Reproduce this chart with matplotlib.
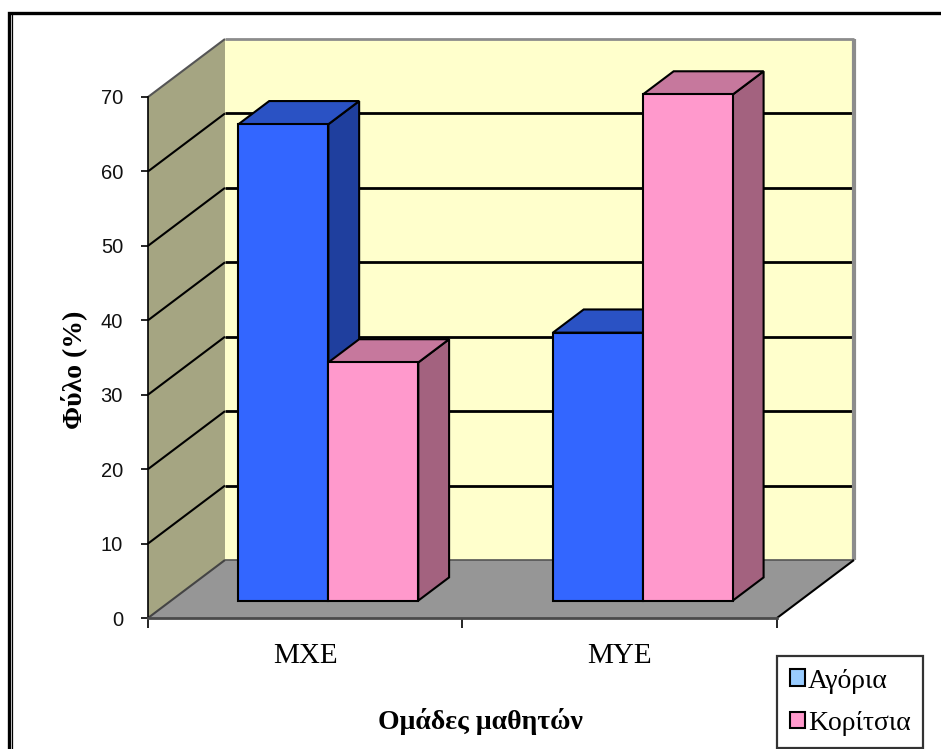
import matplotlib
matplotlib.use("Agg")
import matplotlib.pyplot as plt
from matplotlib.patches import Polygon, Rectangle, Patch
from matplotlib.lines import Line2D

# ---- data ----
categories = ["ΜΧΕ", "ΜΥΕ"]
series_names = ["Αγόρια", "Κορίτσια"]
boys = [64, 36]
girls = [32, 68]
y_ticks = [0, 10, 20, 30, 40, 50, 60, 70]

# ---- style ----
front_colors = ["#3366FF", "#FF99CC"]
top_colors = ["#2A52C4", "#C6789D"]
side_colors = ["#1F3F9E", "#A3627F"]
legend_colors = ["#99CCFF", "#FF99CC"]
wall_back = "#FFFFCC"
wall_side = "#A5A582"
floor_col = "#969696"

W, H = 941, 749
fig = plt.figure(figsize=(W / 100, H / 100), dpi=100)
fig.patch.set_facecolor("white")

# front plane of the 3-D box, in pixels
x_left, x_right = 148, 777
y_bottom, y_top = 618, 97
ax = fig.add_axes([x_left / W, 1 - y_bottom / H,
                   (x_right - x_left) / W, (y_bottom - y_top) / H])
ax.set_xlim(0, len(categories))
ax.set_ylim(0, 70)
ax.patch.set_visible(False)

# oblique depth offset (data units)
DX = 77 / ((x_right - x_left) / len(categories))
DY = 58 / ((y_bottom - y_top) / 70)
ymax = 70
ncat = len(categories)

def poly(pts, fc, ec="none", lw=0, z=1):
    ax.add_patch(Polygon(pts, closed=True, facecolor=fc, edgecolor=ec,
                         linewidth=lw, zorder=z, clip_on=False,
                         joinstyle="miter"))

def line(xs, ys, color="black", lw=1.5, z=1.2):
    ax.add_line(Line2D(xs, ys, color=color, linewidth=lw, zorder=z,
                       clip_on=False, solid_capstyle="butt"))

# walls and floor
poly([(DX, DY), (ncat + DX, DY), (ncat + DX, ymax + DY), (DX, ymax + DY)], wall_back, z=0.5)
poly([(0, 0), (DX, DY), (DX, ymax + DY), (0, ymax)], wall_side, z=0.5)
poly([(0, 0), (ncat, 0), (ncat + DX, DY), (DX, DY)], floor_col, z=0.5)

# gridlines on side wall and back wall
for v in y_ticks[1:-1]:
    line([0, DX], [v, v + DY], lw=1.5)
    line([DX, ncat + DX], [v + DY, v + DY], lw=2)

# wall and floor edges
line([0, DX], [ymax, ymax + DY], color="#555555", lw=1.5)
line([DX, ncat + DX], [ymax + DY, ymax + DY], color="#8C8C8C", lw=2)
line([ncat + DX, ncat + DX], [DY, ymax + DY], color="#8C8C8C", lw=3)
line([0, DX], [0, DY], color="#444444", lw=1.5)
line([DX, ncat + DX], [DY, DY], color="#555555", lw=1.2)
line([ncat, ncat + DX], [0, DY], color="black", lw=1.5)

# bars
f0, f1 = 0.3, 0.7
depth = f1 - f0
bar_w = 0.286
gap = (1 - 2 * bar_w) / 2
values = [boys, girls]
for i in range(ncat):
    for j in range(len(series_names)):
        v = values[j][i]
        x0 = i + gap + j * bar_w + f0 * DX
        y0 = f0 * DY
        top = v + y0
        ddx, ddy = depth * DX, depth * DY
        # side face
        poly([(x0 + bar_w, y0), (x0 + bar_w + ddx, y0 + ddy),
              (x0 + bar_w + ddx, top + ddy), (x0 + bar_w, top)],
             side_colors[j], ec="black", lw=1.5, z=3)
        # top face
        poly([(x0, top), (x0 + bar_w, top), (x0 + bar_w + ddx, top + ddy),
              (x0 + ddx, top + ddy)], top_colors[j], ec="black", lw=1.5, z=3)
        # front face
        poly([(x0, y0), (x0 + bar_w, y0), (x0 + bar_w, top), (x0, top)],
             front_colors[j], ec="black", lw=1.5, z=3)

# axes lines, ticks and labels
for s in ["top", "right"]:
    ax.spines[s].set_visible(False)
ax.spines["left"].set_color("black")
ax.spines["left"].set_linewidth(1.2)
ax.spines["bottom"].set_color("#4A4A4A")
ax.spines["bottom"].set_linewidth(2)

ax.set_yticks(y_ticks)
ax.set_yticklabels([str(t) for t in y_ticks], family="Liberation Sans",
                   fontsize=14.5, color="#111111")
ax.tick_params(axis="y", direction="out", length=5, width=1.2, pad=13)

ax.set_xticks(range(ncat + 1))
ax.set_xticklabels([])
ax.tick_params(axis="x", which="major", direction="out", length=7, width=1.2)
ax.set_xticks([i + 0.5 for i in range(ncat)], minor=True)
ax.set_xticklabels(categories, minor=True, family="Liberation Serif", fontsize=21)
ax.tick_params(axis="x", which="minor", length=0, pad=18)

ax.text(-0.118, 0.476, "Φύλο (%)", transform=ax.transAxes, rotation=90,
        ha="center", va="center", family="Liberation Serif",
        fontweight="bold", fontsize=20)
ax.text(0.528, -0.198, "Ομάδες μαθητών", transform=ax.transAxes,
        ha="center", va="center", family="Liberation Serif",
        fontweight="bold", fontsize=20)

handles = [Patch(facecolor=c, edgecolor="black", linewidth=1.5) for c in legend_colors]
leg = fig.legend(handles, series_names, loc="upper left",
                 bbox_to_anchor=(777 / W, 1 - 656 / H), borderaxespad=0,
                 prop={"family": "Liberation Serif", "size": 20},
                 frameon=True, fancybox=False, shadow=False,
                 handlelength=0.55, handleheight=0.55, handletextpad=0.12,
                 labelspacing=0.62, borderpad=0.45)
leg.get_frame().set_edgecolor("black")
leg.get_frame().set_linewidth(1.6)

# outer border of the chart area
fig.add_artist(Rectangle((8.5 / W, -0.1), 1.2, 1 - 13.5 / H + 0.1,
                         transform=fig.transFigure, fill=False,
                         edgecolor="black", linewidth=2.4))
fig.add_artist(Line2D([12.2 / W, 12.2 / W], [0, 1 - 15 / H],
                      transform=fig.transFigure, color="black", linewidth=0.9))

fig.savefig("out.png", dpi=100, facecolor="white")
